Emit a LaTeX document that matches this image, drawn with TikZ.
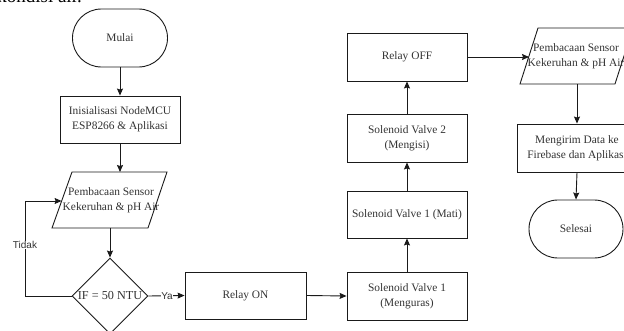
\documentclass[tikz,border=0pt]{standalone}
\usepackage{fontspec}
\setmainfont{Liberation Serif}
\newfontfamily\labelsans{Liberation Sans}
\usetikzlibrary{shapes.geometric,arrows.meta}
\definecolor{lc}{HTML}{1A1A1A}
\definecolor{tc}{HTML}{333333}
\begin{document}
\begin{tikzpicture}[x=1pt,y=-1pt,
  txt/.style={text=tc,font=\fontsize{11.4}{15}\selectfont,align=center,inner sep=0pt},
  box/.style={txt,draw=lc,line width=0.9pt,minimum width=120pt,minimum height=47pt,inner sep=1pt},
  term/.style={box,minimum width=95pt,minimum height=58pt,rounded corners=28.9pt},
  shapeline/.style={draw=lc,line width=0.9pt},
  arr/.style={draw=lc,line width=0.9pt,-{Stealth[length=7pt,width=6pt,inset=1pt]}},
  lbl/.style={text=tc,font=\labelsans\fontsize{10}{12}\selectfont,fill=white,inner sep=0.5pt}]
\useasboundingbox (0,0) rectangle (624,331);
\fill[white] (0,0) rectangle (624,331);
% fragment of the text above
\node[anchor=base east,inner sep=0pt,font=\fontsize{19}{21}\selectfont] (frag) at (82,3) {kondisi air.};
% left column
\node[term] (mulai) at (120,38) {Mulai};
\node[box] (init) at (120,119.5) {Inisialisasi NodeMCU\\ESP8266 \& Aplikasi};
\coordinate (p1a) at (72,172);
\coordinate (p1b) at (167,172);
\coordinate (p1c) at (148,228);
\coordinate (p1d) at (52,228);
\draw[shapeline] (p1a) -- (p1b) -- (p1c) -- (p1d) -- cycle;
\node[txt] (p1) at (111,200) {Pembacaan Sensor\\Kekeruhan \& pH Air};
\node[diamond,shapeline,minimum width=76pt,minimum height=76pt,inner sep=0pt] (d) at (110,296) {};
\node[txt,font=\fontsize{12.2}{15}\selectfont] (dtext) at (d.center) {IF = 50 NTU};
% bottom row and middle column
\node[box,minimum width=121pt] (ron) at (245.5,295.5) {Relay ON};
\node[box,minimum height=48pt] (sv1) at (407,296) {Solenoid Valve 1\\(Menguras)};
\node[box] (sv1m) at (407,214.5) {Solenoid Valve 1 (Mati)};
\node[box,minimum height=48pt] (sv2) at (407,138) {Solenoid Valve 2\\(Mengisi)};
\node[box,minimum height=48pt] (roff) at (407,57) {Relay OFF};
% right column
\coordinate (p2a) at (538,28);
\coordinate (p2b) at (633,28);
\coordinate (p2c) at (615,84);
\coordinate (p2d) at (520,84);
\draw[shapeline] (p2a) -- (p2b) -- (p2c) -- (p2d) -- cycle;
\node[txt] (p2) at (576,56) {Pembacaan Sensor\\Kekeruhan \& pH Air};
\node[box,minimum height=48pt] (kirim) at (577,148) {Mengirim Data ke\\Firebase dan Aplikasi};
\node[term,minimum width=94pt] (selesai) at (576,229) {Selesai};
% connectors
\draw[arr] (mulai.south) -- (init.north);
\draw[arr] (init.south) -- (init.south |- p1a);
\draw[arr] (d.north |- p1d) -- (d.north);
\coordinate (p1w) at (61.6,201);
\coordinate (loop) at (25,201);
\draw[arr] (d.west) -| (loop) -- (p1w);
\node[lbl] (tidak) at (25,245) {Tidak};
\draw[arr] (d.east) -- (ron.west);
\node[lbl] (ya) at (167,296) {Ya};
\draw[arr] (ron.east) -- (sv1.west);
\draw[arr] (sv1.north) -- (sv1m.south);
\draw[arr] (sv1m.north) -- (sv2.south);
\draw[arr] (sv2.north) -- (roff.south);
\coordinate (p2w) at (529,57);
\draw[arr] (roff.east) -- (p2w);
\coordinate (p2s) at (577,84);
\draw[arr] (p2s) -- (kirim.north);
\draw[arr] (kirim.south) -- (selesai.north);
\end{tikzpicture}
\end{document}
